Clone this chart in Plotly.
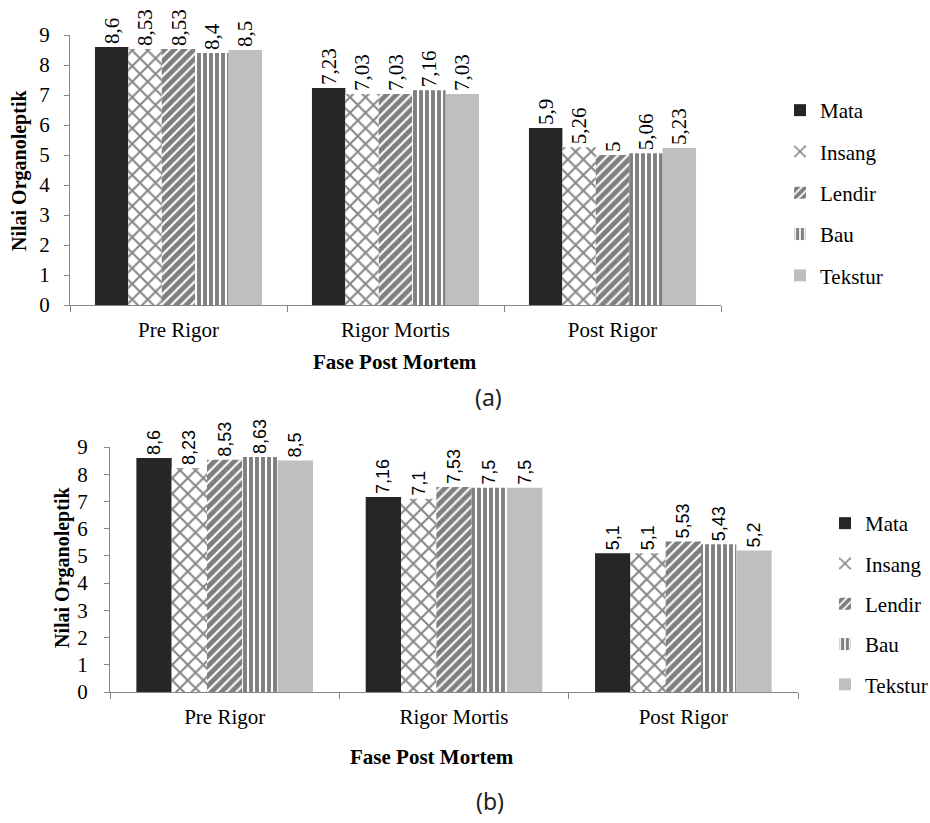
import plotly.graph_objects as go

W, H = 930, 823

categories = ["Pre Rigor", "Rigor Mortis", "Post Rigor"]
series_names = ["Mata", "Insang", "Lendir", "Bau", "Tekstur"]

# Chart (a)
a_mata = [8.6, 7.23, 5.9]
a_insang = [8.53, 7.03, 5.26]
a_lendir = [8.53, 7.03, 5.0]
a_bau = [8.4, 7.16, 5.06]
a_tekstur = [8.5, 7.03, 5.23]

# Chart (b)
b_mata = [8.6, 7.16, 5.1]
b_insang = [8.23, 7.1, 5.1]
b_lendir = [8.53, 7.53, 5.53]
b_bau = [8.63, 7.5, 5.43]
b_tekstur = [8.5, 7.5, 5.2]

y_ticks = [0, 1, 2, 3, 4, 5, 6, 7, 8, 9]

SERIF = "Liberation Serif, Times New Roman, serif"
SANS = "Liberation Sans, Arial, sans-serif"

def px_x(x):
    return x / W

def px_y(y):
    return 1 - y / H

styles = {
    "Mata": dict(color="#262626"),
    "Insang": dict(color="white", pattern=dict(shape="x", fgcolor="#111111", bgcolor="white", size=11, solidity=0.35)),
    "Lendir": dict(color="white", pattern=dict(shape="/", fgcolor="#000000", bgcolor="white", size=7, solidity=0.7)),
    "Bau": dict(color="white", pattern=dict(shape="|", fgcolor="#000000", bgcolor="white", size=6, solidity=0.65)),
    "Tekstur": dict(color="#bfbfbf"),
}

def fmt(v):
    return ("%g" % v).replace(".", ",")

fig = go.Figure()

data_a = [a_mata, a_insang, a_lendir, a_bau, a_tekstur]
data_b = [b_mata, b_insang, b_lendir, b_bau, b_tekstur]

for name, vals in zip(series_names, data_a):
    fig.add_trace(go.Bar(
        x=categories, y=vals, name=name, xaxis="x", yaxis="y",
        marker=dict(line=dict(width=0), **styles[name]),
        text=[fmt(v) for v in vals], textposition="outside", textangle=-90,
        textfont=dict(family=SERIF, size=21, color="black"),
        cliponaxis=False, constraintext="none",
        legend="legend", legendgroup="a" + name,
    ))

for name, vals in zip(series_names, data_b):
    fig.add_trace(go.Bar(
        x=categories, y=vals, name=name, xaxis="x2", yaxis="y2",
        marker=dict(line=dict(width=0), **styles[name]),
        text=[fmt(v) for v in vals], textposition="outside", textangle=-90,
        textfont=dict(family=SANS, size=18, color="black"),
        cliponaxis=False, constraintext="none",
        legend="legend2", legendgroup="b" + name,
    ))

axis_common = dict(showline=True, linecolor="#868686", linewidth=1.3, showgrid=False, zeroline=False,
                   automargin=False, tickfont=dict(family=SERIF, size=21, color="black"))

fig.update_layout(
    width=W, height=H,
    margin=dict(l=0, r=0, t=0, b=0, pad=0, autoexpand=False),
    paper_bgcolor="white", plot_bgcolor="white",
    barmode="group", bargap=0.23, bargroupgap=0,
    showlegend=True,
    xaxis=dict(domain=[px_x(70), px_x(721)], anchor="y", ticks="outside", tickson="boundaries",
               ticklen=6, tickcolor="#868686", ticklabelstandoff=6, **axis_common),
    yaxis=dict(domain=[px_y(305), px_y(35)], anchor="x", range=[0, 9], tickvals=y_ticks,
               ticks="outside", ticklen=5, tickcolor="#868686", ticklabelstandoff=10, **axis_common),
    xaxis2=dict(domain=[px_x(110), px_x(798)], anchor="y2", ticks="outside", tickson="boundaries",
                ticklen=6, tickcolor="#868686", ticklabelstandoff=6, **axis_common),
    yaxis2=dict(domain=[px_y(692), px_y(447)], anchor="x2", range=[0, 9], tickvals=y_ticks,
                ticks="outside", ticklen=5, tickcolor="#868686", ticklabelstandoff=12, **axis_common),
    legend=dict(x=px_x(780), y=px_y(90), xanchor="left", yanchor="top", tracegroupgap=11,
                font=dict(family=SERIF, size=21, color="black"), bgcolor="rgba(0,0,0,0)"),
    legend2=dict(x=px_x(825), y=px_y(503), xanchor="left", yanchor="top", tracegroupgap=10,
                 font=dict(family=SERIF, size=21, color="black"), bgcolor="rgba(0,0,0,0)"),
)

annotations = [
    dict(text="<b>Nilai Organoleptik</b>", x=px_x(20), y=px_y(171), textangle=-90,
         font=dict(family=SERIF, size=20, color="black")),
    dict(text="<b>Fase Post Mortem</b>", x=px_x(395), y=px_y(362),
         font=dict(family=SERIF, size=21, color="black")),
    dict(text="(a)", x=px_x(488), y=px_y(397), font=dict(family="Noto Sans, DejaVu Sans, sans-serif", size=23, color="#222")),
    dict(text="<b>Nilai Organoleptik</b>", x=px_x(62), y=px_y(568), textangle=-90,
         font=dict(family=SERIF, size=20, color="black")),
    dict(text="<b>Fase Post Mortem</b>", x=px_x(432), y=px_y(757),
         font=dict(family=SERIF, size=21, color="black")),
    dict(text="(b)", x=px_x(490), y=px_y(801), font=dict(family="Noto Sans, DejaVu Sans, sans-serif", size=23, color="#222")),
]
for a in annotations:
    a.update(xref="paper", yref="paper", showarrow=False, xanchor="center", yanchor="middle")
fig.update_layout(annotations=annotations)

fig.write_html("out.html", config={"displayModeBar": False},
               post_script="document.body.style.margin='0';")
